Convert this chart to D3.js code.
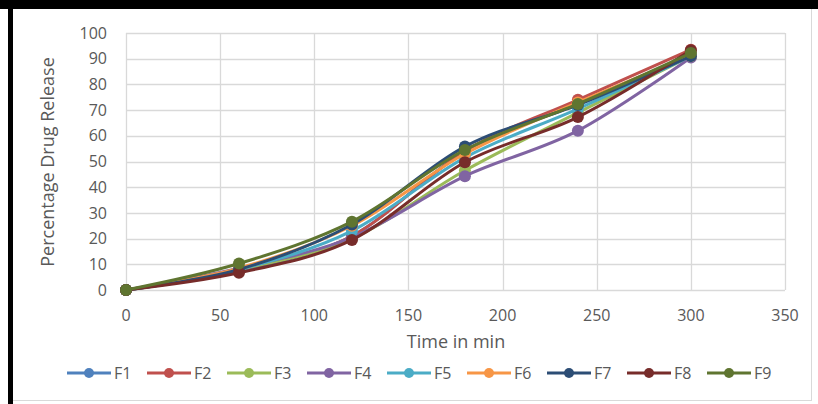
<!DOCTYPE html>
<html>
<head>
<meta charset="utf-8">
<script src="https://cdn.jsdelivr.net/npm/d3@7"></script>
<style>
  body { margin: 0; background: #fff; }
  svg { display: block; font-family: "Open Sans", Lato, sans-serif; }
</style>
</head>
<body>
<svg width="818" height="404"></svg>
<script>
let width = 818, height = 404;

// time points (min)
let times = [0, 60, 120, 180, 240, 300];
let seriesNames = ["F1", "F2", "F3", "F4", "F5", "F6", "F7", "F8", "F9"];
let colors = ["#4F81BD", "#C0504D", "#9BBB59", "#8064A2", "#4BACC6", "#F79646", "#2C4D75", "#772C2A", "#5F7530"];

// percentage drug release per formulation
let F1 = [0, 7.5, 21, 54, 72.5, 91.5];
let F2 = [0, 8, 21, 54, 74, 93.5];
let F3 = [0, 8, 20, 46.5, 69, 91];
let F4 = [0, 8.5, 20.5, 44.3, 62, 90.5];
let F5 = [0, 8, 23, 51.5, 70.5, 91];
let F6 = [0, 8.5, 25, 53, 73, 91];
let F7 = [0, 8, 25.5, 55.8, 72, 91];
let F8 = [0, 6.7, 19.5, 49.7, 67.3, 93.3];
let F9 = [0, 10.3, 26.6, 54.5, 72.4, 92.2];
let allSeries = [F1, F2, F3, F4, F5, F6, F7, F8, F9];

let xTicks = [0, 50, 100, 150, 200, 250, 300, 350];
let yTicks = [0, 10, 20, 30, 40, 50, 60, 70, 80, 90, 100];

let svg = d3.select("svg");

// chart frame
svg.append("rect")
    .attr("x", 10.5).attr("y", 8.5)
    .attr("width", 801).attr("height", 392)
    .attr("fill", "#fff")
    .attr("stroke", "#d9d9d9");
svg.append("rect").attr("x", 0).attr("y", 0).attr("width", width).attr("height", 9).attr("fill", "#000");
svg.append("rect").attr("x", 8).attr("y", 0).attr("width", 5).attr("height", height).attr("fill", "#000");

let x = d3.scaleLinear().domain([0, 350]).range([126, 785]);
let y = d3.scaleLinear().domain([0, 100]).range([290, 33]);

// gridlines
svg.append("g")
    .selectAll("line")
    .data(yTicks)
    .enter()
    .append("line")
    .attr("x1", x(0)).attr("x2", x(350))
    .attr("y1", d => Math.round(y(d)) + 0.5).attr("y2", d => Math.round(y(d)) + 0.5)
    .attr("stroke", "#d9d9d9").attr("stroke-width", 1.3);

svg.append("g")
    .selectAll("line")
    .data(xTicks)
    .enter()
    .append("line")
    .attr("x1", d => Math.round(x(d)) + 0.5).attr("x2", d => Math.round(x(d)) + 0.5)
    .attr("y1", y(0)).attr("y2", y(100))
    .attr("stroke", "#d9d9d9").attr("stroke-width", 1.3);

// tick labels
svg.append("g")
    .selectAll("text")
    .data(yTicks)
    .enter()
    .append("text")
    .attr("x", 107)
    .attr("y", d => y(d))
    .attr("dy", "0.35em")
    .attr("text-anchor", "end")
    .attr("font-size", 16)
    .attr("fill", "#595959")
    .text(d => d);

svg.append("g")
    .selectAll("text")
    .data(xTicks)
    .enter()
    .append("text")
    .attr("x", d => x(d))
    .attr("y", 315)
    .attr("dy", "0.35em")
    .attr("text-anchor", "middle")
    .attr("font-size", 16)
    .attr("fill", "#595959")
    .text(d => d);

// axis titles
svg.append("text")
    .attr("x", 456).attr("y", 342)
    .attr("dy", "0.35em")
    .attr("text-anchor", "middle")
    .attr("font-size", 18)
    .attr("fill", "#595959")
    .text("Time in min");

svg.append("text")
    .attr("transform", "translate(48,162) rotate(-90)")
    .attr("dy", "0.35em")
    .attr("text-anchor", "middle")
    .attr("font-size", 18)
    .attr("fill", "#595959")
    .text("Percentage Drug Release");

// series
let line = d3.line()
    .x((d, i) => x(times[i]))
    .y(d => y(d))
    .curve(d3.curveCatmullRom.alpha(0));

let series = svg.append("g")
    .selectAll("g")
    .data(allSeries)
    .enter()
    .append("g");

series.append("path")
    .attr("d", d => line(d))
    .attr("fill", "none")
    .attr("stroke", (d, i) => colors[i])
    .attr("stroke-width", 3)
    .attr("stroke-linejoin", "round");

series.each(function(d, i) {
    d3.select(this).selectAll("circle")
        .data(d)
        .enter()
        .append("circle")
        .attr("cx", (v, j) => x(times[j]))
        .attr("cy", v => y(v))
        .attr("r", 6)
        .attr("fill", colors[i]);
});

// legend
let legend = svg.append("g")
    .selectAll("g")
    .data(seriesNames)
    .enter()
    .append("g")
    .attr("transform", (d, i) => "translate(" + (67 + i * 80) + ",373)");

legend.append("line")
    .attr("x1", 0).attr("x2", 44)
    .attr("stroke", (d, i) => colors[i])
    .attr("stroke-width", 3);

legend.append("circle")
    .attr("cx", 22).attr("r", 5)
    .attr("fill", (d, i) => colors[i]);

legend.append("text")
    .attr("x", 47)
    .attr("dy", "0.35em")
    .attr("font-size", 16)
    .attr("fill", "#595959")
    .text(d => d);
</script>
</body>
</html>
